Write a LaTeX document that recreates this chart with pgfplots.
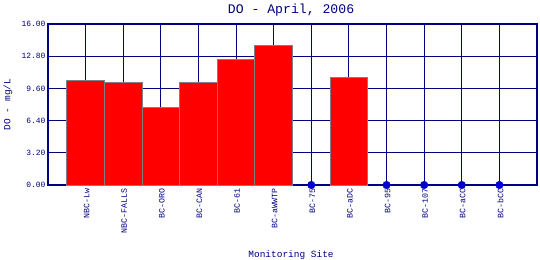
\documentclass[border=0pt]{standalone}
\usepackage{fontspec}
\setmainfont{Liberation Mono}
\usepackage{pgfplots}
\pgfplotsset{compat=1.18}
\definecolor{navy}{RGB}{0,0,128}
\definecolor{dotblue}{RGB}{0,0,205}
\definecolor{edgegray}{RGB}{128,128,128}
\begin{document}
\begin{tikzpicture}
\begin{axis}[
  scale only axis,
  width=489bp, height=161bp,
  xmin=-1, xmax=12,
  ymin=0, ymax=16,
  ytick={0,3.2,6.4,9.6,12.8,16},
  yticklabel style={/pgf/number format/fixed,/pgf/number format/fixed zerofill,/pgf/number format/precision=2,/pgf/number format/assume math mode=true,font=\fontsize{8}{8}\selectfont,text=navy,xshift=1bp},
  xtick={0,1,2,3,4,5,6,7,8,9,10,11},
  xticklabels={NBC-Lw,NBC-FALLS,BC-ORO,BC-CAN,BC-61,BC-aWWTP,BC-75,BC-aDC,BC-95,BC-107,BC-aCC,BC-bCC},
  xticklabel style={rotate=90,anchor=east,font=\fontsize{8.3}{8.3}\selectfont,text=navy,yshift=-1bp},
  major tick length=0pt,
  grid=major,
  grid style={navy,line width=1bp},
  axis line style={navy,line width=1.3bp},
  title={DO - April, 2006},
  title style={at={(axis description cs:0.497,1.052)},anchor=center,font=\fontsize{13.2}{13.2}\selectfont,text=navy},
  xlabel={Monitoring Site},
  xlabel style={at={(axis description cs:0.497,-0.435)},anchor=center,font=\fontsize{9.5}{9.5}\selectfont,text=navy},
  ylabel={DO - mg/L},
  ylabel style={at={(axis description cs:-0.082,0.5)},anchor=center,rotate=0,font=\fontsize{9.5}{9.5}\selectfont,text=navy},
  clip=false,
]
\addplot[ybar, bar width=1, fill=red, draw=edgegray, line width=0.9bp]
  coordinates {(0,10.4) (1,10.2) (2,7.7) (3,10.2) (4,12.5) (5,13.9) (7,10.7)};
\addplot[only marks, mark=*, mark size=3.8bp, color=dotblue]
  coordinates {(6,0) (8,0) (9,0) (10,0) (11,0)};
\end{axis}
\pgfresetboundingbox
\path[use as bounding box] (-48bp,-75bp) rectangle (492bp,185bp);
\end{tikzpicture}
\end{document}
